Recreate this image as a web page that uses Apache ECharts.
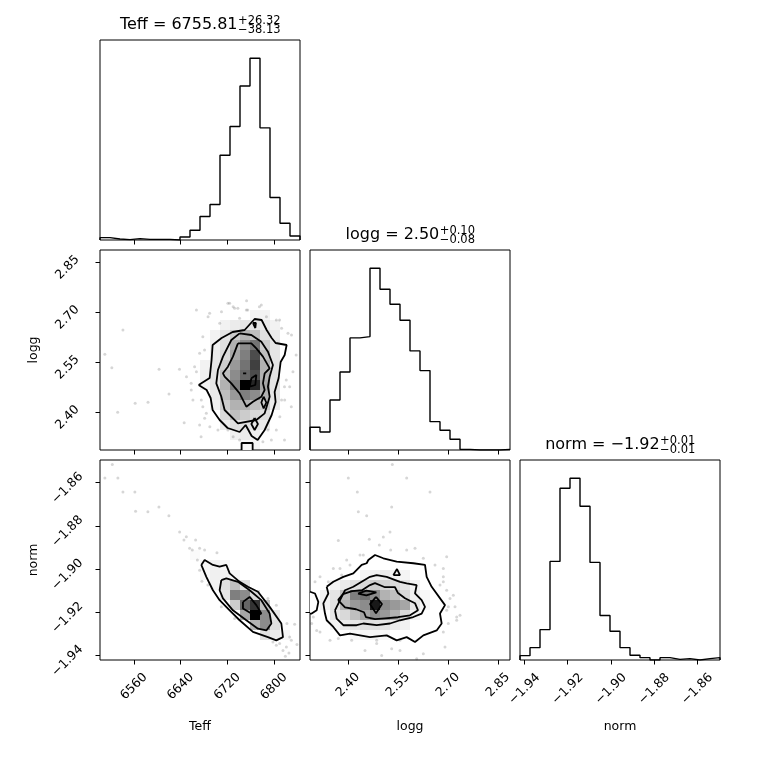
<!DOCTYPE html>
<html>
<head>
<meta charset="utf-8">
<script src="https://cdn.jsdelivr.net/npm/echarts@6/dist/echarts.min.js"></script>
<style>
  html, body { margin: 0; padding: 0; background: #fff; }
  #chart { width: 760px; height: 760px; }
</style>
</head>
<body>
<div id="chart"></div>
<script>
// axis ranges and ticks
const TEFF_RANGE = [6501.7, 6844.6];
const LOGG_RANGE = [2.286, 2.886];
const NORM_RANGE = [-1.9421, -1.8495];
const NBINS = 20;

const TEFF_TICKS = [6560, 6640, 6720, 6800];
const LOGG_TICKS = [2.40, 2.55, 2.70, 2.85];
const NORM_TICKS = [-1.94, -1.92, -1.90, -1.88, -1.86];

// 1D histograms (20 bins each)
const TEFF_HIST = [7, 3, 1, 4, 2, 2, 2, 0, 9, 29, 70, 106, 253, 339, 460, 543, 335, 127, 50, 12];
const LOGG_HIST = [68, 54, 150, 234, 336, 340, 545, 482, 437, 389, 297, 238, 85, 59, 32, 2, 0, 0, 0, 2];
const NORM_HIST = [13, 37, 91, 295, 514, 544, 460, 292, 133, 86, 37, 14, 7, 0, 7, 2, 4, 0, 4, 7];

// 2D density cells [xBin, yBin, darkness]
const CELLS_TEFF_LOGG = [
  [15,13,.05],[16,13,.05],
  [12,12,.05],[13,12,.08],[14,12,.1],[15,12,.1],[16,12,.08],[17,12,.05],
  [11,11,.05],[12,11,.1],[13,11,.2],[14,11,.3],[15,11,.25],[16,11,.12],[17,11,.08],
  [11,10,.06],[12,10,.12],[13,10,.3],[14,10,.45],[15,10,.55],[16,10,.2],[17,10,.1],
  [11,9,.08],[12,9,.15],[13,9,.35],[14,9,.5],[15,9,.7],[16,9,.25],[17,9,.1],
  [10,8,.05],[11,8,.1],[12,8,.2],[13,8,.4],[14,8,.55],[15,8,.75],[16,8,.3],[17,8,.1],
  [10,7,.06],[11,7,.1],[12,7,.25],[13,7,.45],[14,7,.6],[15,7,.7],[16,7,.3],[17,7,.12],
  [10,6,.05],[11,6,.1],[12,6,.3],[13,6,.5],[14,6,1],[15,6,.85],[16,6,.35],[17,6,.1],
  [11,5,.08],[12,5,.25],[13,5,.4],[14,5,.5],[15,5,.45],[16,5,.3],[17,5,.1],
  [11,4,.06],[12,4,.2],[13,4,.3],[14,4,.3],[15,4,.25],[16,4,.2],[17,4,.08],
  [12,3,.15],[13,3,.25],[14,3,.2],[15,3,.15],[16,3,.12],
  [12,2,.08],[13,2,.12],[14,2,.12],[15,2,.1],[16,2,.08],
  [13,1,.06],[14,1,.08],[15,1,.06],
  [14,0,.04],[15,0,.04]
];
const CELLS_TEFF_NORM = [
  [9,10,.02],
  [10,9,.04],[11,9,.05],[12,9,.03],
  [10,8,.03],[11,8,.06],[12,8,.06],[13,8,.04],
  [11,7,.05],[12,7,.12],[13,7,.25],[14,7,.12],
  [12,6,.1],[13,6,.5],[14,6,.45],[15,6,.15],
  [13,5,.2],[14,5,.6],[15,5,.8],[16,5,.25],
  [14,4,.35],[15,4,1],[16,4,.45],[17,4,.1],
  [15,3,.3],[16,3,.45],[17,3,.12],
  [16,2,.12],[17,2,.08],[18,2,.04]
];
const CELLS_LOGG_NORM = [
  [5,8,.04],[6,8,.06],[7,8,.08],[8,8,.05],[9,8,.04],
  [2,7,.04],[3,7,.08],[4,7,.12],[5,7,.15],[6,7,.2],[7,7,.18],[8,7,.15],[9,7,.1],[10,7,.05],
  [1,6,.05],[2,6,.1],[3,6,.25],[4,6,.5],[5,6,.55],[6,6,.45],[7,6,.3],[8,6,.25],[9,6,.15],[10,6,.06],[11,6,.03],
  [1,5,.06],[2,5,.12],[3,5,.3],[4,5,.4],[5,5,.45],[6,5,.9],[7,5,.45],[8,5,.4],[9,5,.35],[10,5,.1],[11,5,.04],
  [2,4,.1],[3,4,.15],[4,4,.25],[5,4,.35],[6,4,.45],[7,4,.4],[8,4,.3],[9,4,.15],[10,4,.06],
  [2,3,.05],[3,3,.08],[4,3,.1],[5,3,.12],[6,3,.12],[7,3,.1],[8,3,.08],[9,3,.05],
  [4,2,.03],[5,2,.04],[6,2,.04],[7,2,.03]
];

// scatter samples outside the contours
const PTS_TEFF_LOGG = [
  [6541,2.646],[6510,2.573],[6522,2.533],[6532,2.399],[6562,2.426],[6584,2.429],[6603,2.528],
  [6620,2.454],[6638,2.528],[6650,2.506],[6646,2.368],[6658,2.486],[6661,2.436],[6667,2.706],
  [6672.5,2.361],[6675,2.326],[6687,2.686],[6710,2.701],[6724,2.726],[6730,2.716],[6738,2.711],
  [6753,2.734],[6755,2.706],[6775,2.716],[6787,2.686],[6804,2.676],[6813,2.651],[6830,2.631],
  [6838,2.571],[6832.5,2.521],[6821,2.496],[6818,2.476],[6813,2.436],[6810,2.386],[6804,2.346],
  [6818,2.316],[6781,2.311],[6741,2.316],[6730,2.326],[6721,2.346],[6690,2.356],[6684,2.396],
  [6678,2.416],[6681,2.586],[6678,2.626],[6707,2.666],[6741,2.681],[6672.5,2.576],[6667,2.521],
  [6689.7,2.696],[6721,2.726],[6732.5,2.711],[6752.6,2.706],[6778.3,2.721],[6809.7,2.676],
  [6824,2.636],[6826.9,2.476],[6818.3,2.436],[6829.7,2.416],[6663.9,2.536],[6658.2,2.466],
  [6675.4,2.436],[6681.1,2.381],[6703.9,2.346],[6789.6,2.346],[6795.5,2.316]
];
const PTS_TEFF_NORM = [
  [6522.8,-1.8516],[6510.1,-1.8578],[6532.4,-1.8578],[6541,-1.8643],[6561.5,-1.8643],[6562.7,-1.8732],
  [6583.8,-1.8735],[6602.7,-1.8713],[6619.8,-1.8753],[6638.2,-1.8828],[6645.6,-1.8865],[6649.7,-1.8850],
  [6655.4,-1.8904],[6660,-1.8912],[6665.6,-1.8865],[6672.5,-1.8904],[6681.1,-1.8912],[6668.6,-1.8958],
  [6702.2,-1.8924],[6672.5,-1.9005],[6676.4,-1.9056],[6686.7,-1.9074],[6709.7,-1.9175],[6732.5,-1.9229],
  [6789.6,-1.9136],[6804,-1.9167],[6822.2,-1.9252],[6835.4,-1.9256],[6826.9,-1.9315],[6821.2,-1.9361],
  [6829.8,-1.9330],[6809.7,-1.9345],[6815.4,-1.9377],[6819.5,-1.9404],[6825.6,-1.9389],[6839.4,-1.9349],
  [6798.2,-1.9338],[6804,-1.9353]
];
const PTS_LOGG_NORM = [
  [2.533,-1.8516],[2.576,-1.8578],[2.401,-1.8578],[2.428,-1.8643],[2.646,-1.8643],[2.531,-1.8713],
  [2.431,-1.8735],[2.456,-1.8753],[2.526,-1.8828],[2.464,-1.8862],[2.371,-1.8868],[2.494,-1.8888],
  [2.506,-1.8852],[2.528,-1.8912],[2.601,-1.8904],[2.436,-1.8935],[2.406,-1.8981],[2.376,-1.8997],
  [2.356,-1.8997],[2.626,-1.8950],[2.661,-1.8981],[2.696,-1.8943],[2.686,-1.8997],[2.676,-1.9074],
  [2.686,-1.9059],[2.696,-1.9098],[2.716,-1.9121],[2.706,-1.9136],[2.721,-1.9175],[2.696,-1.9191],
  [2.736,-1.9214],[2.726,-1.9237],[2.701,-1.9252],[2.686,-1.9291],[2.691,-1.9361],[2.626,-1.9392],
  [2.606,-1.9415],[2.556,-1.9377],[2.531,-1.9369],[2.501,-1.9400],[2.486,-1.9345],[2.451,-1.9377],
  [2.411,-1.9330],[2.371,-1.9322],[2.316,-1.9291],[2.291,-1.9252],[2.296,-1.9222],[2.301,-1.9059],
  [2.341,-1.9059],[2.316,-1.9036],[2.381,-1.9028],
  [2.396,-1.8958],[2.446,-1.8935],[2.576,-1.8912],[2.686,-1.9036],[2.701,-1.9175],[2.726,-1.9222],
  [2.306,-1.9284],[2.346,-1.9330],[2.486,-1.9330],[2.556,-1.9330]
];

// contour lines (outermost first)
const TL_OUTER = [[6670.8,2.481],[6689.7,2.502],[6693.0,2.556],[6694.8,2.601],[6710.2,2.622],[6729.1,2.640],[6749.7,2.646],[6766.8,2.679],[6778.8,2.676],[6787.4,2.646],[6796.0,2.622],[6802.8,2.607],[6821.7,2.601],[6818.3,2.571],[6811.4,2.550],[6808.0,2.502],[6801.1,2.460],[6802.8,2.430],[6796.0,2.391],[6784.0,2.346],[6772.0,2.316],[6761.7,2.328],[6751.4,2.361],[6741.1,2.340],[6720.5,2.352],[6706.8,2.376],[6694.8,2.406],[6691.4,2.442],[6684.5,2.466]];
const TL_EDGE = [[6744.5,2.286],[6744.5,2.307],[6763.4,2.307],[6763.4,2.286]];
const TL_MID = [[6741.1,2.636],[6761.2,2.631],[6778.3,2.611],[6789.6,2.581],[6798.2,2.541],[6792.6,2.506],[6789.6,2.476],[6792.6,2.446],[6784.0,2.396],[6769.7,2.376],[6738.2,2.366],[6715.4,2.406],[6709.7,2.446],[6701.1,2.486],[6703.9,2.526],[6712.5,2.566],[6726.9,2.616]];
const TL_INNER = [[6738.2,2.606],[6761.2,2.606],[6769.7,2.591],[6781.1,2.566],[6792.6,2.531],[6784.0,2.516],[6781.1,2.486],[6784.0,2.466],[6778.3,2.446],[6763.9,2.431],[6752.6,2.416],[6741.1,2.456],[6726.9,2.486],[6715.4,2.506],[6712.5,2.516],[6721.0,2.536],[6729.6,2.566]];
const TL_CORE_A = [[6747.0,2.516],[6749.7,2.522],[6752.4,2.516],[6749.7,2.510]];
const TL_CORE_B = [[6761.2,2.501],[6769.7,2.511],[6768.0,2.481],[6758.3,2.476]];
const TL_ISLANDS = [
  [[6782.3,2.446],[6786.8,2.4285],[6782.3,2.411],[6778.3,2.4285]],
  [[6766.8,2.382],[6772.5,2.364],[6766.8,2.346],[6761.2,2.364]],
  [[6764,2.667],[6769,2.667],[6768,2.652],[6765,2.652]]
];

const TN_OUTER = [[6675.4,-1.8981],[6681.1,-1.8958],[6695.3,-1.8981],[6706.8,-1.8989],[6718.3,-1.8981],[6724.0,-1.9020],[6741.1,-1.9059],[6755.3,-1.9082],[6772.5,-1.9105],[6792.6,-1.9175],[6812.6,-1.9252],[6815.4,-1.9315],[6804.0,-1.9330],[6789.6,-1.9315],[6763.9,-1.9291],[6741.1,-1.9237],[6724.0,-1.9191],[6706.8,-1.9144],[6695.3,-1.9098],[6684.0,-1.9036]];
const TN_MID = [[6709.7,-1.9051],[6718.3,-1.9043],[6738.2,-1.9059],[6758.3,-1.9098],[6778.3,-1.9144],[6792.6,-1.9206],[6795.5,-1.9252],[6786.9,-1.9284],[6772.5,-1.9276],[6752.6,-1.9237],[6729.6,-1.9191],[6712.5,-1.9136],[6706.8,-1.9098]];
const TN_INNER = [[6746.8,-1.9152],[6758.3,-1.9129],[6769.7,-1.9167],[6778.3,-1.9206],[6772.5,-1.9214],[6761.2,-1.9206],[6746.8,-1.9183]];

const LN_OUTER = [[2.336,-1.9082],[2.356,-1.9059],[2.386,-1.9036],[2.416,-1.9020],[2.441,-1.8981],[2.456,-1.8973],[2.461,-1.8958],[2.481,-1.8935],[2.506,-1.8950],[2.546,-1.8966],[2.596,-1.8973],[2.631,-1.8981],[2.636,-1.9036],[2.651,-1.9082],[2.691,-1.9167],[2.676,-1.9206],[2.681,-1.9252],[2.666,-1.9284],[2.626,-1.9307],[2.601,-1.9338],[2.576,-1.9315],[2.546,-1.9330],[2.516,-1.9307],[2.466,-1.9315],[2.436,-1.9307],[2.406,-1.9299],[2.376,-1.9307],[2.356,-1.9268],[2.336,-1.9237],[2.331,-1.9206],[2.326,-1.9159],[2.341,-1.9113]];
const LN_EDGE = [[2.286,-1.9105],[2.301,-1.9113],[2.311,-1.9152],[2.306,-1.9191],[2.291,-1.9206],[2.286,-1.9206]];
const LN_MID = [[2.361,-1.9191],[2.381,-1.9129],[2.391,-1.9098],[2.416,-1.9082],[2.441,-1.9059],[2.466,-1.9036],[2.486,-1.9028],[2.516,-1.9036],[2.556,-1.9059],[2.576,-1.9066],[2.606,-1.9074],[2.601,-1.9113],[2.621,-1.9144],[2.631,-1.9175],[2.621,-1.9206],[2.596,-1.9222],[2.556,-1.9237],[2.526,-1.9252],[2.486,-1.9260],[2.446,-1.9252],[2.426,-1.9260],[2.386,-1.9260],[2.366,-1.9229]];
const LN_INNER = [[2.370,-1.9144],[2.385,-1.9116],[2.412,-1.9102],[2.442,-1.9098],[2.466,-1.9074],[2.481,-1.9065],[2.511,-1.9084],[2.541,-1.9084],[2.550,-1.9111],[2.571,-1.9135],[2.601,-1.9158],[2.610,-1.9191],[2.586,-1.9214],[2.550,-1.9223],[2.511,-1.9228],[2.481,-1.9232],[2.454,-1.9223],[2.448,-1.9200],[2.424,-1.9186],[2.391,-1.9177]];
const LN_CORE_A = [[2.430,-1.9114],[2.455,-1.9100],[2.485,-1.9108],[2.455,-1.9122]];
const LN_CORE_B = [[2.484,-1.9129],[2.502,-1.9162],[2.484,-1.9204],[2.466,-1.9162]];
const LN_ISLAND = [[2.536,-1.9028],[2.547,-1.9000],[2.556,-1.9028]];

// titles
const TITLES = [
  { main: 'Teff = 6755.81', sup: '+26.32', sub: '\u221238.13' },
  { main: 'logg = 2.50', sup: '+0.10', sub: '\u22120.08' },
  { main: 'norm = \u22121.92', sup: '+0.01', sub: '\u22120.01' }
];

const FONT = '"DejaVu Sans", sans-serif';
const fmtTeff = (v) => String(Math.round(v));
const fmtLogg = (v) => v.toFixed(2);
const fmtNorm = (v) => v.toFixed(2).replace('-', '\u2212');

// panel boxes [left, top]
const CELL = 200;
const GRID_POS = [[100, 40], [100, 250], [310, 250], [100, 460], [310, 460], [520, 460]];

function histPoints(counts, range) {
  const w = (range[1] - range[0]) / counts.length;
  const pts = [[range[0], 0]];
  counts.forEach((c, i) => {
    pts.push([range[0] + i * w, c]);
    pts.push([range[0] + (i + 1) * w, c]);
  });
  pts.push([range[1], 0]);
  return pts;
}

function xAxisFor(gi, range, ticks, fmt, labelled, name, margin) {
  return {
    gridIndex: gi, type: 'value', min: range[0], max: range[1],
    axisLine: { show: false }, splitLine: { show: false },
    axisTick: { show: true, customValues: ticks, length: 4.5, lineStyle: { color: '#000', width: 1 } },
    axisLabel: { show: labelled, customValues: ticks, formatter: fmt, rotate: 45, align: 'center',
      verticalAlign: 'middle', margin: margin || 26, fontSize: 12.5, color: '#000', fontFamily: FONT },
    name: name || '', nameLocation: 'middle', nameGap: 60,
    nameTextStyle: { fontSize: 12.5, color: '#000', fontFamily: FONT }
  };
}

function yAxisFor(gi, range, ticks, fmt, labelled, name) {
  return {
    gridIndex: gi, type: 'value', min: range[0], max: range[1],
    axisLine: { show: false }, splitLine: { show: false },
    axisTick: { show: true, customValues: ticks, length: 4.5, lineStyle: { color: '#000', width: 1 } },
    axisLabel: { show: labelled, customValues: ticks, formatter: fmt, rotate: 45, align: 'center',
      verticalAlign: 'middle', margin: 27, padding: [15.6, 15.6, 0, 0],
      fontSize: 12.5, color: '#000', fontFamily: FONT },
    name: name || '', nameLocation: 'middle', nameGap: 60,
    nameTextStyle: { fontSize: 12.5, color: '#000', fontFamily: FONT }
  };
}

function histYAxis(gi, counts) {
  return { gridIndex: gi, type: 'value', min: 0, max: 1.1 * Math.max(...counts), show: false };
}

function histSeries(gi, counts, range) {
  return { type: 'line', xAxisIndex: gi, yAxisIndex: gi, data: histPoints(counts, range),
    symbol: 'none', silent: true, lineStyle: { color: '#000', width: 1.4 } };
}

function scatterSeries(gi, pts) {
  return { type: 'scatter', xAxisIndex: gi, yAxisIndex: gi, data: pts, symbolSize: 3,
    silent: true, z: 1, itemStyle: { color: 'rgba(0,0,0,0.2)' } };
}

function fillSeries(gi, poly) {
  return { type: 'custom', xAxisIndex: gi, yAxisIndex: gi, data: [0], silent: true, z: 2, clip: true,
    renderItem: (params, api) => ({
      type: 'polygon', shape: { points: poly.map(p => api.coord(p)) }, style: { fill: '#fff' }
    }) };
}

function cellSeries(gi, cells, xr, yr) {
  const bx = (xr[1] - xr[0]) / NBINS, by = (yr[1] - yr[0]) / NBINS;
  return { type: 'custom', xAxisIndex: gi, yAxisIndex: gi, data: cells, silent: true, z: 3, clip: true,
    renderItem: (params, api) => {
      const ix = api.value(0), iy = api.value(1), v = api.value(2);
      const p0 = api.coord([xr[0] + ix * bx, yr[0] + iy * by]);
      const p1 = api.coord([xr[0] + (ix + 1) * bx, yr[0] + (iy + 1) * by]);
      const x0 = Math.round(p0[0]), x1 = Math.round(p1[0]);
      const y0 = Math.round(p1[1]), y1 = Math.round(p0[1]);
      return { type: 'rect', shape: { x: x0, y: y0, width: x1 - x0, height: y1 - y0 },
        style: { fill: 'rgba(0,0,0,' + v + ')' } };
    } };
}

function contourSeries(gi, poly, closed) {
  const data = closed === false ? poly : poly.concat([poly[0]]);
  return { type: 'line', xAxisIndex: gi, yAxisIndex: gi, data: data, symbol: 'none', silent: true,
    z: 4, lineStyle: { color: '#000', width: 1.8 } };
}

function titleGraphics() {
  const ctx = document.createElement('canvas').getContext('2d');
  const out = [];
  TITLES.forEach((t, i) => {
    const gi = [0, 2, 5][i];
    const cx = GRID_POS[gi][0] + CELL / 2;
    const base = GRID_POS[gi][1] - 10;
    ctx.font = '16px ' + FONT;
    const wm = ctx.measureText(t.main).width;
    ctx.font = '11.5px ' + FONT;
    const ws = Math.max(ctx.measureText(t.sup).width, ctx.measureText(t.sub).width);
    const x0 = cx - (wm + ws) / 2;
    out.push({ type: 'text', x: x0, y: base - 5.6,
      style: { text: t.main, font: '16px ' + FONT, fill: '#000', align: 'left', verticalAlign: 'middle' } });
    out.push({ type: 'text', x: x0 + wm + 0.5, y: base - 4.5 - 4,
      style: { text: t.sup, font: '11.5px ' + FONT, fill: '#000', align: 'left', verticalAlign: 'middle' } });
    out.push({ type: 'text', x: x0 + wm + 0.5, y: base + 4 - 4,
      style: { text: t.sub, font: '11.5px ' + FONT, fill: '#000', align: 'left', verticalAlign: 'middle' } });
  });
  return out;
}

const chart = echarts.init(document.getElementById('chart'), null, { renderer: 'canvas' });

const option = {
  backgroundColor: '#fff',
  animation: false,
  textStyle: { fontFamily: FONT },
  grid: GRID_POS.map(p => ({ left: p[0], top: p[1], width: CELL, height: CELL, show: true,
    borderColor: '#000', borderWidth: 1, backgroundColor: 'transparent' })),
  xAxis: [
    xAxisFor(0, TEFF_RANGE, TEFF_TICKS, fmtTeff, false),
    xAxisFor(1, TEFF_RANGE, TEFF_TICKS, fmtTeff, false),
    xAxisFor(2, LOGG_RANGE, LOGG_TICKS, fmtLogg, false),
    xAxisFor(3, TEFF_RANGE, TEFF_TICKS, fmtTeff, true, 'Teff', 26.5),
    xAxisFor(4, LOGG_RANGE, LOGG_TICKS, fmtLogg, true, 'logg', 25),
    xAxisFor(5, NORM_RANGE, NORM_TICKS, fmtNorm, true, 'norm', 29)
  ],
  yAxis: [
    histYAxis(0, TEFF_HIST),
    yAxisFor(1, LOGG_RANGE, LOGG_TICKS, fmtLogg, true, 'logg'),
    histYAxis(2, LOGG_HIST),
    yAxisFor(3, NORM_RANGE, NORM_TICKS, fmtNorm, true, 'norm'),
    yAxisFor(4, NORM_RANGE, NORM_TICKS, fmtNorm, false),
    histYAxis(5, NORM_HIST)
  ],
  series: [
    histSeries(0, TEFF_HIST, TEFF_RANGE),
    histSeries(2, LOGG_HIST, LOGG_RANGE),
    histSeries(5, NORM_HIST, NORM_RANGE),

    scatterSeries(1, PTS_TEFF_LOGG),
    fillSeries(1, TL_OUTER),
    fillSeries(1, TL_EDGE),
    cellSeries(1, CELLS_TEFF_LOGG, TEFF_RANGE, LOGG_RANGE),
    contourSeries(1, TL_OUTER),
    contourSeries(1, TL_EDGE, false),
    contourSeries(1, TL_MID),
    contourSeries(1, TL_INNER),
    contourSeries(1, TL_CORE_A),
    contourSeries(1, TL_CORE_B),
    ...TL_ISLANDS.map(p => contourSeries(1, p)),

    scatterSeries(3, PTS_TEFF_NORM),
    fillSeries(3, TN_OUTER),
    cellSeries(3, CELLS_TEFF_NORM, TEFF_RANGE, NORM_RANGE),
    contourSeries(3, TN_OUTER),
    contourSeries(3, TN_MID),
    contourSeries(3, TN_INNER),

    scatterSeries(4, PTS_LOGG_NORM),
    fillSeries(4, LN_OUTER),
    fillSeries(4, LN_EDGE),
    cellSeries(4, CELLS_LOGG_NORM, LOGG_RANGE, NORM_RANGE),
    contourSeries(4, LN_OUTER),
    contourSeries(4, LN_EDGE, false),
    contourSeries(4, LN_MID),
    contourSeries(4, LN_INNER),
    contourSeries(4, LN_CORE_A),
    contourSeries(4, LN_CORE_B),
    contourSeries(4, LN_ISLAND)
  ],
  graphic: titleGraphics()
};

chart.setOption(option);
</script>
</body>
</html>
